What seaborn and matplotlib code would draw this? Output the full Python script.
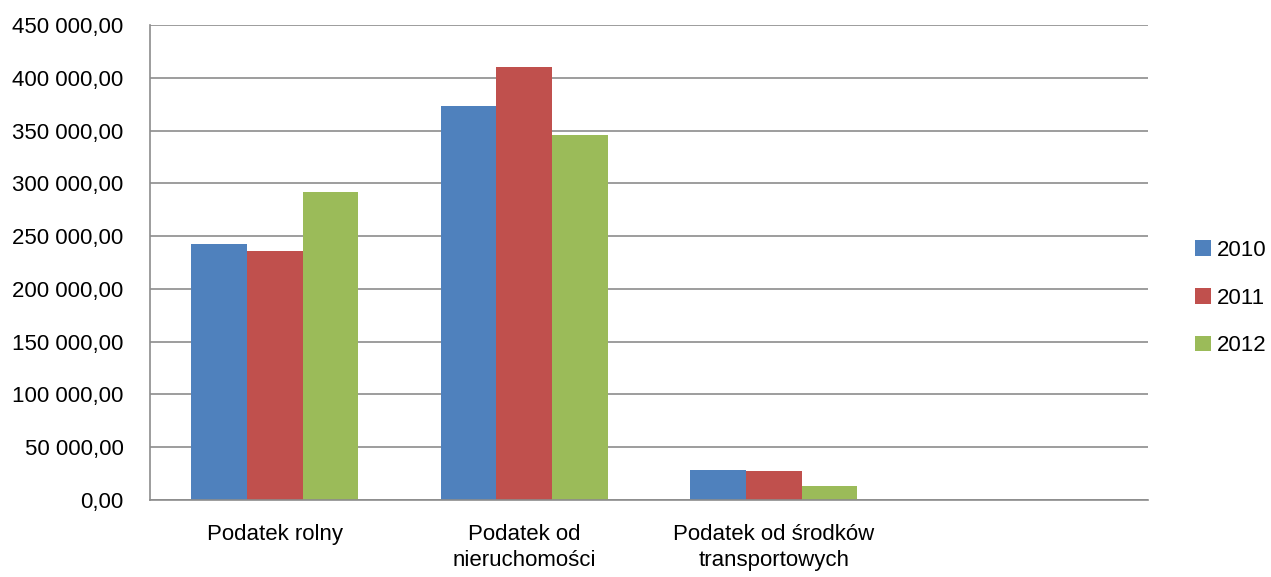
#!/usr/bin/env python3
# -*- coding: utf-8 -*-

import pandas as pd
import numpy as np
import matplotlib
matplotlib.use("Agg")
import matplotlib.pyplot as plt
from matplotlib.ticker import FuncFormatter, FixedLocator
import seaborn as sns

# Dane
categories = ["Podatek rolny", "Podatek od\nnieruchomości", "Podatek od środków\ntransportowych", " "]
years = ["2010", "2011", "2012"]
val_2010 = [242500, 373300, 28400]
val_2011 = [236000, 410200, 27500]
val_2012 = [291800, 345800, 13300]
colors = ["#4F81BD", "#C0504D", "#9BBB59"]

rows = []
for year, vals in zip(years, [val_2010, val_2011, val_2012]):
    for cat, v in zip(categories[:3], vals):
        rows.append({"kategoria": cat, "rok": year, "wartosc": v})
df = pd.DataFrame(rows)

sns.set_style("white")
plt.rcParams["font.family"] = ["Liberation Sans", "DejaVu Sans"]
plt.rcParams["text.color"] = "black"
plt.rcParams["xtick.labelcolor"] = "black"
plt.rcParams["ytick.labelcolor"] = "black"

fig = plt.figure(figsize=(12.71, 5.77), dpi=100)
ax = fig.add_axes([150 / 1271, 77 / 577, 998 / 1271, 475 / 577])

sns.barplot(data=df, x="kategoria", y="wartosc", hue="rok", order=categories,
            hue_order=years, palette=colors, width=0.67, saturation=1,
            edgecolor="none", linewidth=0, ax=ax)

ax.set_xlim(-0.5, 3.5)
ax.set_ylim(0, 450000)
ax.set_yticks(np.arange(0, 450001, 50000))
ax.yaxis.set_major_formatter(FuncFormatter(
    lambda v, p: f"{v:,.2f}".replace(",", " ").replace(".", ",")))
ax.yaxis.grid(True, color="#8C8C8C", linewidth=1.2)
ax.set_axisbelow(True)

# znaczniki osi X pomiędzy kategoriami
ax.xaxis.set_minor_locator(FixedLocator(np.arange(-0.5, 4.0, 1.0)))
ax.tick_params(axis="x", which="major", length=0, pad=17, labelsize=16,
               labelcolor="black")
ax.tick_params(axis="x", which="minor", length=7, width=1.2, color="#8C8C8C")
ax.tick_params(axis="y", which="major", length=7, width=1.2, color="#8C8C8C",
               labelsize=16, pad=12, labelcolor="black")
for lbl in ax.get_xticklabels():
    lbl.set_linespacing(1.35)

for side in ["top", "right"]:
    ax.spines[side].set_visible(False)
for side in ["left", "bottom"]:
    ax.spines[side].set_color("#8C8C8C")
    ax.spines[side].set_linewidth(1.2)

ax.set_xlabel("")
ax.set_ylabel("")

ax.legend(loc="center left", bbox_to_anchor=(1.027, 0.425), frameon=False,
          fontsize=16, handlelength=0.7, handleheight=0.7, handletextpad=0.3,
          labelspacing=1.2, labelcolor="black")

plt.savefig("out.png", dpi=100)
plt.close()
